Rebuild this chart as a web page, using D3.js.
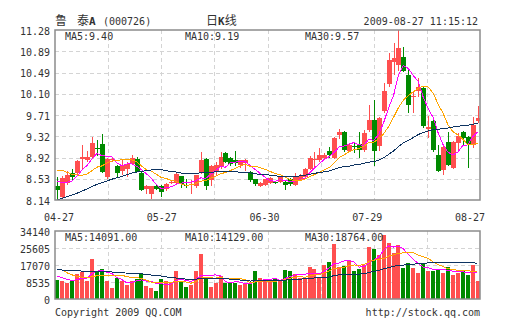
<!DOCTYPE html>
<html><head><meta charset="utf-8">
<script src="https://cdn.jsdelivr.net/npm/d3@7"></script>
<style>
body{margin:0;background:#fff}
svg{display:block}
text{font-family:"DejaVu Sans Mono","Liberation Mono",monospace;font-size:10px;fill:#333}
.cjk{font-family:"Noto Sans CJK SC","DejaVu Sans Mono",monospace;font-size:12px}
</style>
</head><body>
<svg id="c" width="505" height="330"></svg>
<script>
// ---------- data ----------
const tickDates = ["04-27","05-27","06-30","07-29","08-27"];
const priceTicks = ["11.28","10.89","10.49","10.10","9.71","9.32","8.92","8.53","8.14"];
const volTicks = ["34140","25605","17070","8535","0"];
const priceLegend = ["MA5:9.40","MA10:9.19","MA30:9.57"];
const volLegend = ["MA5:14091.00","MA10:14129.00","MA30:18764.00"];

const open = [8.40,8.19,8.45,8.64,8.64,8.90,8.87,8.93,9.10,9.17, 8.56,8.87,8.77,8.68,8.72,8.81,8.90,8.64,8.34,8.26,
 8.40,8.40,8.35,8.45,8.46,8.58,8.42,8.42,8.39,8.66, 8.89,8.51,8.66,8.75,9.00,8.91,8.87,8.78,8.83,8.66,
 8.52,8.40,8.42,8.45,8.48,8.48,8.48,8.52,8.42,8.51, 8.56,8.71,8.87,8.88,8.91,9.05,8.91,9.34,9.40,9.05,
 9.13,9.17,9.06,9.43,9.61,9.13,9.78,10.28,10.68,10.64, 10.78,10.44,10.04,10.16,10.21,9.46,9.60,8.98,8.70,9.22,
 8.74,9.19,9.39,9.31,9.16,9.59];
const close = [8.33,8.55,8.60,8.57,8.86,8.93,8.93,9.20,9.08,8.65, 8.89,8.89,8.64,8.79,8.81,8.92,8.66,8.33,8.40,8.39,
 8.34,8.28,8.44,8.47,8.62,8.44,8.39,8.43,8.60,8.88, 8.40,8.76,8.79,8.94,8.85,8.80,8.82,8.87,8.88,8.51,
 8.44,8.46,8.52,8.55,8.46,8.57,8.42,8.43,8.56,8.58, 8.71,8.91,8.89,8.97,8.97,8.97,9.28,9.40,9.06,9.15,
 9.12,9.06,9.37,9.62,9.04,9.66,10.15,10.73,10.76,10.94, 10.53,9.89,10.07,10.22,9.50,9.48,9.06,8.68,9.11,8.79,
 9.22,9.33,9.28,9.17,9.53,9.66];
const high = [8.57,8.58,8.67,8.72,8.88,9.15,9.05,9.31,9.25,9.36, 8.91,8.91,8.78,8.87,8.85,8.98,8.94,8.65,8.41,8.40,
 8.41,8.42,8.45,8.50,8.64,8.59,8.52,8.51,8.61,9.03, 8.91,8.78,8.85,9.02,9.02,8.94,9.04,8.88,8.90,8.67,
 8.53,8.47,8.53,8.56,8.50,8.58,8.49,8.54,8.63,8.62, 8.74,8.95,9.02,9.10,9.00,9.12,9.30,9.45,9.41,9.17,
 9.22,9.40,9.43,9.90,9.98,9.68,10.30,10.85,11.04,11.28, 10.97,10.58,10.15,10.39,10.24,9.70,9.62,9.15,9.13,9.40,
 9.23,9.38,9.41,9.32,9.68,9.87];
const low = [8.14,8.17,8.42,8.50,8.62,8.72,8.84,8.92,8.95,8.63, 8.53,8.85,8.54,8.60,8.56,8.78,8.65,8.31,8.26,8.15,
 8.33,8.20,8.30,8.44,8.44,8.37,8.36,8.25,8.36,8.62, 8.33,8.39,8.60,8.72,8.83,8.76,8.77,8.74,8.68,8.48,
 8.39,8.38,8.40,8.43,8.44,8.46,8.33,8.40,8.40,8.49, 8.55,8.69,8.72,8.85,8.89,8.92,8.90,9.26,9.02,9.03,
 9.01,8.92,9.03,9.40,8.76,9.05,9.75,10.23,10.45,10.52, 10.50,9.75,9.75,10.05,9.47,9.29,9.03,8.65,8.61,8.76,
 8.72,9.05,9.16,8.73,9.10,9.57];
const volume = [9700,9200,8030,8870,12720,13390,9200,20080,14220,15060, 8870,5520,10540,9200,6860,8870,10210,12890,6360,5520,
 4180,10210,8870,8530,14220,8530,6190,6860,13890,22760, 10040,6020,7860,11710,7860,7860,8030,6860,7530,7530,
 13890,10540,8870,8500,10210,8870,14560,13890,12720,10540, 10540,16070,15230,10880,17240,18570,27780,15900,16400,18900,
 13890,15060,17070,26100,25100,22250,31960,28110,23090,26940, 15560,18070,15560,13050,18000,14000,14000,15000,13000,16000,
 12000,13000,14000,12000,17000,9000];
// closes and volumes of the 29 sessions before 04-27 (needed for the moving averages at the left edge)
const prevClose = [7.60,7.70,7.65,7.80,7.75,7.85,7.80,7.90,7.80,7.85, 7.90,7.95,8.00,7.90,8.00,8.05,7.95,8.00,7.95,8.00,
 8.50,8.95,9.00,8.90,9.00, 8.70,8.55,8.45,8.42];
const prevVolume = [12000,15000,13000,16000,14000,17000,12500,15500,14000,13000, 16000,15000,14500,13500,16500,14000,13000,15000,14000,14000,
 16000,22000,19000,20000,17000, 14000,12000,11000,11000];

// ---------- layout ----------
const L=55, R=480, PT=30, PB=200, VT=231, VB=299;
const C_UP="#ff4f4f", C_DN="#008a00", C_MA5="#ff00ff", C_MA10="#ffa500", C_MA30="#0d3361";
const svg=d3.select("#c");
const n=close.length, idx=d3.range(n);
const x=d3.scaleBand().domain(idx).range([L,R]).paddingInner(0.2).paddingOuter(0.1);
const cx=i=>x(i)+x.bandwidth()/2;
const y=d3.scaleLinear().domain([+priceTicks[priceTicks.length-1],+priceTicks[0]]).range([PB,PT]);
const yv=d3.scaleLinear().domain([0,+volTicks[0]]).range([VB,VT]);
const gx=d3.scaleLinear().domain([0,8]).range([L,R]);
const lx=d3.scalePoint().domain(tickDates).range([L+4,R-10]);

function ma(all, k, offset){ return idx.map(i=>d3.mean(all.slice(i+offset-k+1,i+offset+1))); }
const allC=prevClose.concat(close), allV=prevVolume.concat(volume), off=prevClose.length;
const pMA=[ma(allC,5,off),ma(allC,10,off),ma(allC,30,off)];
const vMA=[ma(allV,5,off),ma(allV,10,off),ma(allV,30,off)];
const maColors=[C_MA5,C_MA10,C_MA30];

svg.append("defs").call(d=>{
  d.append("clipPath").attr("id","cp").append("rect").attr("x",L).attr("y",PT).attr("width",R-L).attr("height",PB-PT);
  d.append("clipPath").attr("id","cv").append("rect").attr("x",L).attr("y",VT).attr("width",R-L).attr("height",VB-VT);
});

// grids
function grid(top,bottom,hvals,scale){
  const g=svg.append("g").attr("stroke","#d4d4d4").attr("stroke-dasharray","4,3").attr("shape-rendering","crispEdges");
  g.selectAll(".v").data(d3.range(1,8)).join("line").attr("x1",k=>Math.round(gx(k))+0.5).attr("x2",k=>Math.round(gx(k))+0.5).attr("y1",top).attr("y2",bottom);
  g.selectAll(".h").data(hvals).join("line").attr("x1",L).attr("x2",R).attr("y1",v=>Math.round(scale(v))+0.5).attr("y2",v=>Math.round(scale(v))+0.5);
}
grid(PT,PB,priceTicks.slice(1,-1).map(Number),y);
grid(VT,VB,volTicks.slice(1,-1).map(Number),yv);

// candles
const cg=svg.append("g").attr("clip-path","url(#cp)").attr("shape-rendering","crispEdges");
idx.forEach(i=>{
  const up=close[i]>=open[i], col=up?C_UP:C_DN;
  const x0=Math.round(cx(i)-2);
  cg.append("rect").attr("x",x0+2).attr("width",1).attr("y",y(high[i])).attr("height",Math.max(1,y(low[i])-y(high[i]))).attr("fill",col);
  const top=y(Math.max(open[i],close[i])), bot=y(Math.min(open[i],close[i]));
  cg.append("rect").attr("x",x0).attr("width",5).attr("y",top).attr("height",Math.max(1,bot-top)).attr("fill",col);
});
// price MAs
const lineP=d3.line().x((d,i)=>cx(i)).y(d=>y(d));
pMA.forEach((s,k)=>svg.append("path").attr("clip-path","url(#cp)").attr("d",lineP(s)).attr("fill","none").attr("stroke",maColors[k]).attr("stroke-width",1).attr("shape-rendering","crispEdges"));

// volume bars
const vg=svg.append("g").attr("clip-path","url(#cv)").attr("shape-rendering","crispEdges");
idx.forEach(i=>{
  const up=close[i]>=open[i];
  const x0=Math.round(cx(i)-2);
  vg.append("rect").attr("x",x0).attr("width",4).attr("y",yv(volume[i])).attr("height",yv(0)-yv(volume[i])).attr("fill",up?C_UP:C_DN);
});
const lineV=d3.line().x((d,i)=>cx(i)).y(d=>yv(d));
vMA.forEach((s,k)=>svg.append("path").attr("clip-path","url(#cv)").attr("d",lineV(s)).attr("fill","none").attr("stroke",maColors[k]).attr("stroke-width",1).attr("shape-rendering","crispEdges"));

// frames
[[PT,PB],[VT,VB]].forEach(([t,b])=>svg.append("rect").attr("x",L).attr("y",t).attr("width",R-L).attr("height",b-t).attr("fill","none").attr("stroke","#8c8c8c").attr("stroke-width",1.5));

// axis labels
svg.selectAll(".pt").data(priceTicks).join("text").attr("x",L-5).attr("y",d=>y(+d)+1).attr("text-anchor","end").attr("dominant-baseline","central").text(d=>d);
svg.selectAll(".vt").data(volTicks).join("text").attr("x",L-5).attr("y",d=>yv(+d)+1.5).attr("text-anchor","end").attr("dominant-baseline","central").text(d=>d);
svg.selectAll(".xt").data(tickDates).join("text").attr("x",d=>lx(d)).attr("y",PB+21).attr("text-anchor","middle").text(d=>d);

// legends
const legX=[L+10,L+130,L+250];
priceLegend.forEach((t,k)=>svg.append("text").attr("x",legX[k]).attr("y",PT+10).attr("fill",maColors[k]).text(t));
volLegend.forEach((t,k)=>svg.append("text").attr("x",legX[k]).attr("y",VT+10).attr("fill",maColors[k]).text(t));

// header & footer
const h1=svg.append("text").attr("x",L).attr("y",25);
h1.append("tspan").attr("class","cjk").text("鲁");
h1.append("tspan").attr("x",L+22).attr("class","cjk").text("泰");
h1.append("tspan").attr("font-weight","bold").attr("font-size","11px").text("A");
h1.append("tspan").attr("x",L+48).text("(000726)");
const h2=svg.append("text").attr("x",206).attr("y",25);
h2.append("tspan").attr("class","cjk").text("日");
h2.append("tspan").attr("font-weight","bold").attr("font-size","11px").text("K");
h2.append("tspan").attr("class","cjk").text("线");
svg.append("text").attr("x",R-2).attr("y",25).attr("text-anchor","end").text("2009-08-27 11:15:12");
svg.append("text").attr("x",L).attr("y",316).text("Copyright 2009 QQ.COM");
svg.append("text").attr("x",R).attr("y",316).attr("text-anchor","end").text("http://stock.qq.com");
</script>
</body></html>
